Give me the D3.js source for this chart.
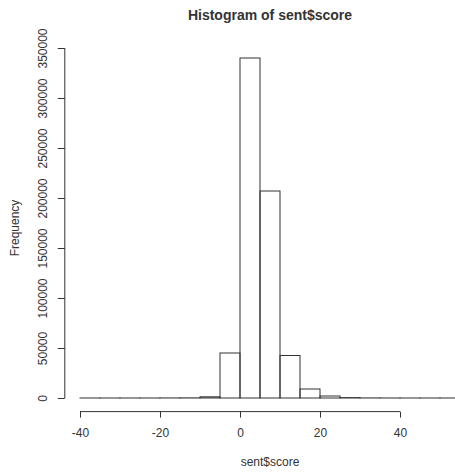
<!DOCTYPE html>
<html>
<head>
<meta charset="utf-8">
<script src="https://cdn.jsdelivr.net/npm/d3@7"></script>
<style>
  body { margin: 0; background: #fff; }
  text { font-family: "Liberation Sans", Arial, sans-serif; fill: #333; }
</style>
</head>
<body>
<div id="chart"></div>
<script>
// data: bin lower edges (width 5) and counts
const binStarts = [-40, -35, -30, -25, -20, -15, -10, -5, 0, 5, 10, 15, 20, 25, 30, 35, 40, 45, 50];
const binWidth = 5;
const counts = [10, 10, 20, 30, 60, 150, 1200, 45000, 340000, 207000, 42500, 9000, 2000, 400, 80, 30, 10, 10, 10];
const xTicks = [-40, -20, 0, 20, 40];
const yTicks = [0, 50000, 100000, 150000, 200000, 250000, 300000, 350000];

// size
const width = 455, height = 473;
const plotLeft = 64.8, plotRight = 475.2, plotTop = 44.4, plotBottom = 411.6;

const svg = d3.select('#chart')
  .append('svg')
  .attr('width', width)
  .attr('height', height);

// R style: range extended by 4%
const xMin = binStarts[0], xMax = binStarts[binStarts.length - 1] + binWidth;
const xPad = (xMax - xMin) * 0.04;
const x = d3.scaleLinear()
  .domain([xMin - xPad, xMax + xPad])
  .range([plotLeft, plotRight]);

const yMax = d3.max(counts);
const y = d3.scaleLinear()
  .domain([-yMax * 0.04, yMax * 1.04])
  .range([plotBottom, plotTop]);

const bins = binStarts.map((s, i) => ({ x0: s, x1: s + binWidth, n: counts[i] }));

// bars
svg.selectAll('.bar')
  .data(bins)
  .enter()
  .append('rect')
  .attr('class', 'bar')
  .attr('x', d => x(d.x0))
  .attr('width', d => x(d.x1) - x(d.x0))
  .attr('y', d => y(d.n))
  .attr('height', d => y(0) - y(d.n))
  .attr('fill', 'none')
  .attr('stroke', '#333')
  .attr('stroke-width', 1);

// hyphen minus like R
const fmt = d => String(d);

// x axis
const xAxis = svg.append('g')
  .attr('transform', `translate(0,${plotBottom})`)
  .call(d3.axisBottom(x).tickValues(xTicks).tickSize(6).tickPadding(11).tickFormat(fmt));
xAxis.select('.domain').attr('d', `M${x(xTicks[0])},0H${x(xTicks[xTicks.length - 1])}`);
xAxis.selectAll('line, path').attr('stroke', '#333');
xAxis.selectAll('text').attr('font-size', 12).style('fill', '#333');

// y axis
const yAxis = svg.append('g')
  .attr('transform', `translate(${plotLeft},0)`)
  .call(d3.axisLeft(y).tickValues(yTicks).tickSize(7).tickFormat(fmt));
yAxis.select('.domain').attr('d', `M0,${y(yTicks[0])}V${y(yTicks[yTicks.length - 1])}`);
yAxis.selectAll('line, path').attr('stroke', '#333');
yAxis.selectAll('.tick text')
  .attr('font-size', 12)
  .attr('x', 0)
  .attr('dy', 0)
  .attr('text-anchor', 'middle')
  .attr('transform', 'translate(-18,0) rotate(-90)')
  .style('fill', '#333');

// titles
const cx = (plotLeft + plotRight) / 2;
svg.append('text')
  .attr('x', cx)
  .attr('y', 20)
  .attr('text-anchor', 'middle')
  .attr('font-size', 14)
  .attr('font-weight', 'bold')
  .text('Histogram of sent$score');

svg.append('text')
  .attr('x', cx)
  .attr('y', 466)
  .attr('text-anchor', 'middle')
  .attr('font-size', 12)
  .text('sent$score');

svg.append('text')
  .attr('transform', `translate(19,${(plotTop + plotBottom) / 2}) rotate(-90)`)
  .attr('text-anchor', 'middle')
  .attr('font-size', 12)
  .text('Frequency');
</script>
</body>
</html>
